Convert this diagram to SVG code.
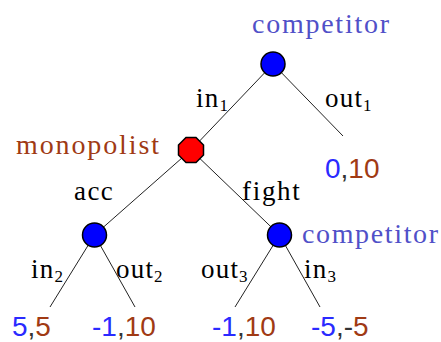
<svg xmlns="http://www.w3.org/2000/svg" width="441" height="342" viewBox="0 0 441 342">
<style>
.edge{stroke:#222;stroke-width:1;fill:none}
.node{stroke:#000;stroke-width:1.5}
.c{fill:#0000ff}
.m{fill:#ff0000}
.lab{font-family:"Liberation Serif",serif;font-size:27px;fill:#000;letter-spacing:1.2px}
.sub{font-size:17px;letter-spacing:0}
.player{font-family:"Liberation Serif",serif;font-size:28px}
.pc{fill:#5050c8}
.pm{fill:#a03a14}
.pay{font-family:"Liberation Sans",sans-serif;font-size:28px}
.b{fill:#2a2aff}
.r{fill:#a03a14}
.k{fill:#333}
</style>
<rect width="441" height="342" fill="#fff"/>
<g id="connectors">
<line class="edge" x1="273" y1="64" x2="191" y2="150"/>
<line class="edge" x1="273" y1="64" x2="343" y2="136"/>
<line class="edge" x1="191" y1="150" x2="94.5" y2="235"/>
<line class="edge" x1="191" y1="150" x2="279.5" y2="235"/>
<line class="edge" x1="94.5" y1="235" x2="50" y2="307"/>
<line class="edge" x1="94.5" y1="235" x2="135" y2="307"/>
<line class="edge" x1="279.5" y1="235" x2="235" y2="307"/>
<line class="edge" x1="279.5" y1="235" x2="320" y2="307"/>
<text class="lab" x="196" y="107">in<tspan class="sub" dy="4">1</tspan></text>
<text class="lab" x="325" y="107">out<tspan class="sub" dy="4">1</tspan></text>
<text class="lab" x="74" y="200" textLength="40">acc</text>
<text class="lab" x="242" y="200" textLength="59">fight</text>
<text class="lab" x="31" y="278">in<tspan class="sub" dy="4">2</tspan></text>
<text class="lab" x="116" y="278">out<tspan class="sub" dy="4">2</tspan></text>
<text class="lab" x="201" y="278">out<tspan class="sub" dy="4">3</tspan></text>
<text class="lab" x="304" y="278">in<tspan class="sub" dy="4">3</tspan></text>
</g>
<g id="node-competitor-top">
<circle class="node c" cx="273" cy="64" r="12"/>
<text class="player pc" x="252" y="33" textLength="137">competitor</text>
</g>
<g id="node-monopolist">
<polygon class="node m" points="186,137.5 196,137.5 203.5,145 203.5,155 196,162.5 186,162.5 178.5,155 178.5,145"/>
<text class="player pm" x="16" y="154" textLength="143">monopolist</text>
</g>
<g id="node-competitor-acc">
<circle class="node c" cx="94.5" cy="235" r="12"/>
</g>
<g id="node-competitor-fight">
<circle class="node c" cx="279.5" cy="235" r="12"/>
<text class="player pc" x="302" y="243" textLength="136">competitor</text>
</g>
<g id="leaf-out1">
<text class="pay" x="325" y="178"><tspan class="b">0</tspan><tspan class="k">,</tspan><tspan class="r">10</tspan></text>
</g>
<g id="leaf-acc-in">
<text class="pay" x="12" y="336"><tspan class="b">5</tspan><tspan class="k">,</tspan><tspan class="r">5</tspan></text>
</g>
<g id="leaf-acc-out">
<text class="pay" x="92" y="336"><tspan class="b">-1</tspan><tspan class="k">,</tspan><tspan class="r">10</tspan></text>
</g>
<g id="leaf-fight-out">
<text class="pay" x="212" y="336"><tspan class="b">-1</tspan><tspan class="k">,</tspan><tspan class="r">10</tspan></text>
</g>
<g id="leaf-fight-in">
<text class="pay" x="311" y="336"><tspan class="b">-5</tspan><tspan class="k">,-</tspan><tspan class="r">5</tspan></text>
</g>
</svg>
